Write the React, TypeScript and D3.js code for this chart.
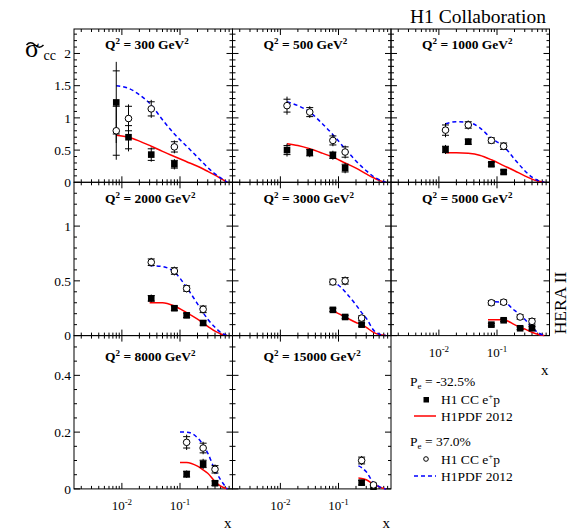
import React from 'react';
import * as d3 from 'd3';

const W = 569;
const H = 531;

// Q^2 of each panel (GeV^2)
const q2Values = [300, 500, 1000, 2000, 3000, 5000, 8000, 15000];

// measured x of data points per panel
const pointX = [
  [0.008, 0.013, 0.032, 0.08],
  [0.013, 0.032, 0.08, 0.13],
  [0.013, 0.032, 0.08, 0.13],
  [0.032, 0.08, 0.13, 0.25],
  [0.08, 0.13, 0.25],
  [0.08, 0.13, 0.25, 0.4],
  [0.13, 0.25, 0.4],
  [0.25, 0.4],
];

// Pe = -32.5% (solid squares)
const negVal = [
  [1.24, 0.7, 0.43, 0.28],
  [0.5, 0.46, 0.42, 0.22],
  [0.51, 0.63, 0.28, 0.16],
  [0.34, 0.25, 0.185, 0.115],
  [0.235, 0.17, 0.1],
  [0.1, 0.14, 0.067, 0.067],
  [0.052, 0.088, 0.02],
  [0.022, 0.008],
];
const negStat = [
  [0.49, 0.18, 0.09, 0.06],
  [0.07, 0.05, 0.05, 0.06],
  [0.05, 0.04, 0.03, 0.03],
  [0.025, 0.02, 0.02, 0.02],
  [0.015, 0.015, 0.015],
  [0.012, 0.012, 0.012, 0.015],
  [0.01, 0.013, 0.008],
  [0.008, 0.005],
];
const negTot = [
  [0.63, 0.22, 0.11, 0.08],
  [0.1, 0.07, 0.07, 0.08],
  [0.07, 0.05, 0.04, 0.04],
  [0.035, 0.025, 0.025, 0.025],
  [0.02, 0.02, 0.02],
  [0.018, 0.018, 0.018, 0.02],
  [0.013, 0.018, 0.01],
  [0.01, 0.006],
];

// Pe = +37.0% (open circles)
const posVal = [
  [0.8, 0.99, 1.14, 0.55],
  [1.19, 1.09, 0.65, 0.47],
  [0.81, 0.89, 0.65, 0.56],
  [0.67, 0.59, 0.43, 0.24],
  [0.49, 0.5, 0.16],
  [0.3, 0.305, 0.17, 0.13],
  [0.164, 0.144, 0.069],
  [0.1, 0.014],
];
const posStat = [
  [0.38, 0.19, 0.11, 0.08],
  [0.1, 0.07, 0.07, 0.08],
  [0.08, 0.05, 0.04, 0.05],
  [0.03, 0.03, 0.025, 0.03],
  [0.025, 0.03, 0.02],
  [0.02, 0.02, 0.02, 0.025],
  [0.02, 0.017, 0.013],
  [0.012, 0.006],
];
const posTot = [
  [0.45, 0.22, 0.14, 0.1],
  [0.14, 0.09, 0.09, 0.1],
  [0.11, 0.07, 0.05, 0.06],
  [0.04, 0.04, 0.035, 0.04],
  [0.03, 0.04, 0.03],
  [0.03, 0.03, 0.025, 0.035],
  [0.027, 0.022, 0.017],
  [0.016, 0.008],
];

// H1PDF 2012 predictions
const curveX = [
  [0.008, 0.013, 0.02, 0.032, 0.05, 0.08, 0.13, 0.2, 0.3, 0.4, 0.5, 0.65],
  [0.013, 0.02, 0.032, 0.05, 0.08, 0.13, 0.2, 0.3, 0.4, 0.5, 0.65],
  [0.013, 0.02, 0.032, 0.05, 0.08, 0.13, 0.2, 0.3, 0.4, 0.5, 0.65],
  [0.03, 0.05, 0.08, 0.13, 0.2, 0.3, 0.4, 0.5, 0.65],
  [0.075, 0.1, 0.13, 0.2, 0.25, 0.3, 0.4, 0.5, 0.65],
  [0.07, 0.13, 0.2, 0.25, 0.3, 0.4, 0.5, 0.65],
  [0.1, 0.13, 0.2, 0.25, 0.3, 0.4, 0.5, 0.65],
  [0.22, 0.25, 0.3, 0.4, 0.5, 0.65],
];
const curveNeg = [
  [0.73, 0.7, 0.64, 0.56, 0.48, 0.4, 0.32, 0.25, 0.17, 0.11, 0.06, 0],
  [0.6, 0.57, 0.52, 0.46, 0.39, 0.3, 0.22, 0.13, 0.07, 0.03, 0],
  [0.46, 0.46, 0.45, 0.42, 0.35, 0.26, 0.18, 0.1, 0.05, 0.02, 0],
  [0.3, 0.3, 0.27, 0.21, 0.15, 0.085, 0.04, 0.015, 0],
  [0.235, 0.2, 0.17, 0.12, 0.1, 0.075, 0.03, 0.01, 0],
  [0.145, 0.145, 0.1, 0.076, 0.06, 0.03, 0.012, 0],
  [0.093, 0.093, 0.08, 0.067, 0.055, 0.026, 0.01, 0],
  [0.038, 0.037, 0.032, 0.017, 0.007, 0],
];
const curvePos = [
  [1.5, 1.46, 1.36, 1.2, 0.97, 0.75, 0.56, 0.39, 0.23, 0.13, 0.07, 0],
  [1.25, 1.19, 1.09, 0.93, 0.74, 0.52, 0.33, 0.18, 0.09, 0.04, 0],
  [0.91, 0.94, 0.93, 0.85, 0.68, 0.56, 0.36, 0.18, 0.08, 0.03, 0],
  [0.64, 0.63, 0.58, 0.44, 0.29, 0.15, 0.076, 0.03, 0],
  [0.49, 0.46, 0.4, 0.28, 0.21, 0.16, 0.05, 0.015, 0],
  [0.31, 0.305, 0.23, 0.19, 0.15, 0.076, 0.03, 0],
  [0.2, 0.2, 0.18, 0.155, 0.126, 0.067, 0.032, 0],
  [0.081, 0.075, 0.06, 0.022, 0.008, 0],
];

// per-row y axis settings
const rowYMax = [2.38, 1.4, 0.54];
const rowMajor = [
  [0, 0.5, 1, 1.5, 2],
  [0, 0.5, 1],
  [0, 0.2, 0.4],
];
const rowMinorStep = [0.1, 0.1, 0.05];
const xMajor = [0.01, 0.1];
const xDomain = [0.0015, 0.8];

const plotLeft = 74;
const colW = 158.5;
const plotTop = 29;
const rowH = 153.3;
const FONT = 'Liberation Serif, Times New Roman, serif';
const titleOffset = [19.5, 20.5, 25];

function Panel({ i }: { i: number }) {
  const row = Math.floor(i / 3);
  const col = i % 3;
  const x0 = plotLeft + col * colW;
  const y0 = plotTop + row * rowH;
  const x = d3.scaleLog().domain(xDomain).range([x0, x0 + colW]);
  const y = d3.scaleLinear().domain([0, rowYMax[row]]).range([y0 + rowH, y0]);
  const yb = y0 + rowH;

  const minorX: number[] = [];
  [0.001, 0.01, 0.1].forEach((d) => {
    for (let k = 2; k <= 9; k++) {
      const v = d * k;
      if (v > xDomain[0] && v < xDomain[1]) minorX.push(v);
    }
  });
  const minorY: number[] = [];
  const step = rowMinorStep[row];
  for (let v = 0; v < rowYMax[row] - 1e-9; v += step) {
    const r = Math.round(v / step) * step;
    if (!rowMajor[row].some((m) => Math.abs(m - r) < 1e-6)) minorY.push(r);
  }

  const line = d3
    .line<[number, number]>()
    .x((d) => x(d[0]))
    .y((d) => y(d[1]))
    .curve(d3.curveMonotoneX);
  const negPts = curveX[i].map((xv, k) => [xv, curveNeg[i][k]] as [number, number]);
  const posPts = curveX[i].map((xv, k) => [xv, curvePos[i][k]] as [number, number]);

  const errBar = (xv: number, v: number, st: number, tt: number, key: string) => {
    const px = x(xv);
    return (
      <g key={key} stroke="#000" strokeWidth={1}>
        <line x1={px} x2={px} y1={y(v + tt)} y2={y(Math.max(0, v - tt))} />
        <line x1={px - 3.5} x2={px + 3.5} y1={y(v + st)} y2={y(v + st)} />
        <line x1={px - 3.5} x2={px + 3.5} y1={y(Math.max(0, v - st))} y2={y(Math.max(0, v - st))} />
      </g>
    );
  };

  const showXLabels = i === 5 || i === 6 || i === 7;
  const showYLabels = col === 0;

  return (
    <g>
      <rect x={x0} y={y0} width={colW} height={rowH} fill="none" stroke="#000" strokeWidth={1} />
      {xMajor.map((v) => (
        <g key={'xm' + v} stroke="#000" strokeWidth={1}>
          <line x1={x(v)} x2={x(v)} y1={yb} y2={yb - 6} />
          <line x1={x(v)} x2={x(v)} y1={y0} y2={y0 + 6} />
        </g>
      ))}
      {minorX.map((v) => (
        <g key={'xn' + v} stroke="#000" strokeWidth={1}>
          <line x1={x(v)} x2={x(v)} y1={yb} y2={yb - 3} />
          <line x1={x(v)} x2={x(v)} y1={y0} y2={y0 + 3} />
        </g>
      ))}
      {rowMajor[row].map((v) => (
        <g key={'ym' + v} stroke="#000" strokeWidth={1}>
          <line x1={x0} x2={x0 + 6} y1={y(v)} y2={y(v)} />
          <line x1={x0 + colW} x2={x0 + colW - 6} y1={y(v)} y2={y(v)} />
        </g>
      ))}
      {minorY.map((v) => (
        <g key={'yn' + v} stroke="#000" strokeWidth={1}>
          <line x1={x0} x2={x0 + 3} y1={y(v)} y2={y(v)} />
          <line x1={x0 + colW} x2={x0 + colW - 3} y1={y(v)} y2={y(v)} />
        </g>
      ))}
      {showYLabels &&
        rowMajor[row].map((v) => (
          <text
            key={'yl' + v}
            x={x0 - 3}
            y={y(v)}
            dy="0.35em"
            textAnchor="end"
            fontFamily={FONT}
            fontSize={13.5}
          >
            {d3.format('~g')(v)}
          </text>
        ))}
      {showXLabels &&
        xMajor.map((v) => (
          <text key={'xl' + v} x={x(v)} y={yb + 21} textAnchor="middle" fontFamily={FONT} fontSize={13}>
            10
            <tspan dy={-5} fontSize={9}>
              {String(Math.round(Math.log10(v)))}
            </tspan>
          </text>
        ))}
      {showXLabels && (
        <text x={x0 + colW - 1} y={yb + 39} textAnchor="end" fontFamily={FONT} fontSize={15}>
          x
        </text>
      )}
      <text x={x0 + 31} y={y0 + titleOffset[row]} fontFamily={FONT} fontSize={13.5} fontWeight="bold">
        Q
        <tspan dy={-5} fontSize={9}>
          2
        </tspan>
        <tspan dy={5}>{` = ${q2Values[i]} GeV`}</tspan>
        <tspan dy={-5} fontSize={9}>
          2
        </tspan>
      </text>
      <path d={line(negPts) || ''} fill="none" stroke="#ff0000" strokeWidth={1.5} />
      <path d={line(posPts) || ''} fill="none" stroke="#0000ff" strokeWidth={1.5} strokeDasharray="4,3" />
      {pointX[i].map((xv, k) => errBar(xv, negVal[i][k], negStat[i][k], negTot[i][k], 'en' + k))}
      {pointX[i].map((xv, k) => errBar(xv, posVal[i][k], posStat[i][k], posTot[i][k], 'ep' + k))}
      {pointX[i].map((xv, k) => (
        <rect key={'sq' + k} x={x(xv) - 3.3} y={y(negVal[i][k]) - 3.3} width={6.6} height={6.6} fill="#000" />
      ))}
      {pointX[i].map((xv, k) => (
        <circle key={'ci' + k} cx={x(xv)} cy={y(posVal[i][k])} r={3.3} fill="#fff" stroke="#000" strokeWidth={1} />
      ))}
    </g>
  );
}

export default function App() {
  const lx = 410;
  return (
    <svg
      width={W}
      height={H}
      style={{ position: 'absolute', left: 0, top: 0, background: '#fff' }}
      xmlns="http://www.w3.org/2000/svg"
    >
      <rect x={0} y={0} width={W} height={H} fill="#fff" />
      {q2Values.map((_, i) => (
        <Panel key={i} i={i} />
      ))}
      <text x={25} y={57} fontFamily={FONT} fontSize={26}>
        σ
      </text>
      <path d="M26.5,45 q4,-4.5 8.5,0 t8.5,0" fill="none" stroke="#000" strokeWidth={1.4} />
      <text x={43.5} y={59.5} fontFamily={FONT} fontSize={14}>
        cc
      </text>
      <text x={410} y={23} fontFamily={FONT} fontSize={19.5}>
        H1 Collaboration
      </text>
      <text transform="translate(566,303) rotate(-90)" textAnchor="middle" fontFamily={FONT} fontSize={17.5}>
        HERA II
      </text>
      <g fontFamily={FONT} fontSize={13.5}>
        <text x={lx} y={386}>
          P<tspan dy={3} fontSize={9}>e</tspan>
          <tspan dy={-3}> = -32.5%</tspan>
        </text>
        <rect x={423.5} y={397} width={5.5} height={5.5} fill="#000" />
        <text x={441} y={404}>
          H1 CC e<tspan dy={-5} fontSize={9}>+</tspan>
          <tspan dy={5}>p</tspan>
        </text>
        <line x1={414} x2={436} y1={416} y2={416} stroke="#ff0000" strokeWidth={1.5} />
        <text x={441} y={420.5}>H1PDF 2012</text>
        <text x={lx} y={446}>
          P<tspan dy={3} fontSize={9}>e</tspan>
          <tspan dy={-3}> = 37.0%</tspan>
        </text>
        <circle cx={426} cy={459} r={2.3} fill="#fff" stroke="#000" strokeWidth={1} />
        <text x={441} y={464}>
          H1 CC e<tspan dy={-5} fontSize={9}>+</tspan>
          <tspan dy={5}>p</tspan>
        </text>
        <line x1={414} x2={436} y1={476} y2={476} stroke="#0000ff" strokeWidth={1.5} strokeDasharray="4,3" />
        <text x={441} y={480.5}>H1PDF 2012</text>
      </g>
    </svg>
  );
}
